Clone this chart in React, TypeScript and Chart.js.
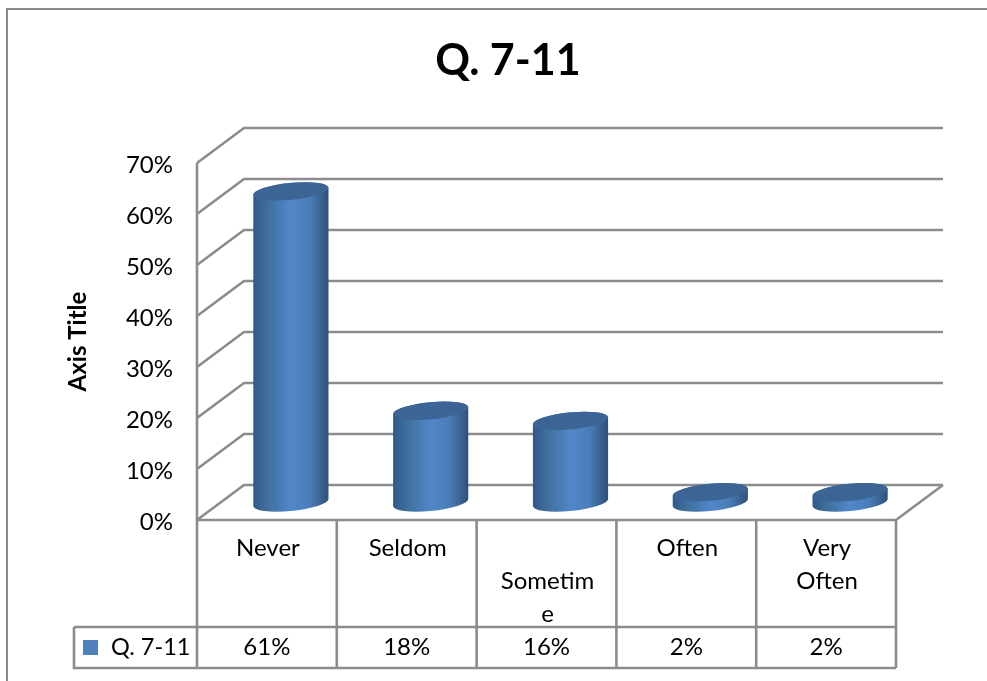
import React, { useEffect, useRef } from "react";
import { Chart, registerables } from "chart.js";

Chart.register(...registerables);

const categories: (string | string[])[] = ["Never", "Seldom", ["", "Sometim", "e"], "Often", ["Very", "Often"]];
const seriesName = "Q. 7-11";
const seriesValues = [0.61, 0.18, 0.16, 0.02, 0.02];
const titleText = "Q. 7-11";
const axisTitleText = "Axis Title";

const FONT = "Lato";
const LINE = "#8c8c8c";
const LINE_WIDTH = 2.6;
const DEPTH_X = 47;
const DEPTH_Y = 35;
const TABLE_ROW_TOP = 627;
const TABLE_BOTTOM = 668;
const TABLE_LEFT = 74;

const pct = (v: number) => `${Math.round(v * 100)}%`;

// Side walls and floor of the 3D box, one polyline per y tick.
const wallsPlugin = {
  id: "walls",
  beforeDatasetsDraw(chart: any) {
    const { ctx, scales } = chart;
    const x = scales.x;
    const y = scales.y;
    const left = x.left;
    const right = x.right;
    ctx.save();
    ctx.strokeStyle = LINE;
    ctx.lineWidth = LINE_WIDTH;
    ctx.lineJoin = "miter";
    y.ticks.forEach((t: any) => {
      const py = y.getPixelForValue(t.value);
      ctx.beginPath();
      ctx.moveTo(left, py);
      ctx.lineTo(left + DEPTH_X, py - DEPTH_Y);
      ctx.lineTo(right + DEPTH_X, py - DEPTH_Y);
      ctx.stroke();
    });
    const y0 = y.getPixelForValue(0);
    ctx.beginPath();
    ctx.moveTo(left, y.getPixelForValue(y.max));
    ctx.lineTo(left, y0);
    ctx.lineTo(right, y0);
    ctx.lineTo(right + DEPTH_X, y0 - DEPTH_Y);
    ctx.stroke();
    ctx.restore();
  },
};

// Each bar element is painted as a tilted cylinder standing mid-depth on the floor.
const cylinderPlugin = {
  id: "cylinders",
  afterDatasetsDraw(chart: any) {
    const { ctx } = chart;
    const meta = chart.getDatasetMeta(0);
    const tilt = (-5.5 * Math.PI) / 180;
    meta.data.forEach((bar: any) => {
      const cx = bar.x + DEPTH_X / 2 + 0.5;
      const topY = bar.y - DEPTH_Y / 2;
      const baseY = bar.base - DEPTH_Y / 2;
      const rx = bar.width / 2;
      const ry = 8.5;
      const t0 = Math.atan2(-ry * Math.sin(tilt), rx * Math.cos(tilt));
      const grad = ctx.createLinearGradient(cx - rx, 0, cx + rx, 0);
      grad.addColorStop(0, "#2f5888");
      grad.addColorStop(0.2, "#41709f");
      grad.addColorStop(0.5, "#5187c9");
      grad.addColorStop(0.75, "#4a7db9");
      grad.addColorStop(1, "#2f5077");
      ctx.save();
      ctx.beginPath();
      ctx.ellipse(cx, baseY, rx, ry, tilt, t0, t0 + Math.PI);
      ctx.ellipse(cx, topY, rx, ry, tilt, t0 + Math.PI, t0);
      ctx.closePath();
      ctx.fillStyle = grad;
      ctx.fill();
      ctx.beginPath();
      ctx.ellipse(cx, topY, rx, ry, tilt, 0, Math.PI * 2);
      ctx.fillStyle = "#3c6595";
      ctx.fill();
      ctx.restore();
    });
  },
};

// Data table under the plot, with its columns taken from the category scale.
const tablePlugin = {
  id: "dataTable",
  afterDraw(chart: any) {
    const { ctx, scales, width } = chart;
    const x = scales.x;
    const y0 = scales.y.getPixelForValue(0);
    const edges = categories.map((_, i) => x.getPixelForValue(i) - (x.getPixelForValue(1) - x.getPixelForValue(0)) / 2);
    edges.push(x.right);
    ctx.save();
    ctx.strokeStyle = LINE;
    ctx.lineWidth = LINE_WIDTH;
    edges.forEach((ex: number) => {
      ctx.beginPath();
      ctx.moveTo(ex, y0);
      ctx.lineTo(ex, TABLE_BOTTOM);
      ctx.stroke();
    });
    ctx.beginPath();
    ctx.moveTo(TABLE_LEFT, TABLE_ROW_TOP);
    ctx.lineTo(x.right, TABLE_ROW_TOP);
    ctx.moveTo(x.right, TABLE_BOTTOM);
    ctx.lineTo(TABLE_LEFT, TABLE_BOTTOM);
    ctx.lineTo(TABLE_LEFT, TABLE_ROW_TOP);
    ctx.stroke();

    ctx.fillStyle = "#000000";
    ctx.font = `24px ${FONT}`;
    ctx.textBaseline = "middle";
    ctx.textAlign = "center";
    const rowMid = (TABLE_ROW_TOP + TABLE_BOTTOM) / 2;
    seriesValues.forEach((v, i) => {
      ctx.fillText(pct(v), x.getPixelForValue(i), rowMid);
    });
    ctx.textAlign = "left";
    ctx.font = `23.5px ${FONT}`;
    ctx.fillText(seriesName, 111, rowMid);
    ctx.fillStyle = "#4f81bd";
    ctx.fillRect(83, 640, 15, 15);

    // Chart frame: top and left edges only.
    ctx.strokeStyle = "#8a8a8a";
    ctx.lineWidth = 2;
    ctx.beginPath();
    ctx.moveTo(7, 681);
    ctx.lineTo(7, 9);
    ctx.lineTo(width, 9);
    ctx.stroke();
    ctx.restore();
  },
};

export default function App() {
  const canvasRef = useRef<HTMLCanvasElement>(null);

  useEffect(() => {
    const chart = new Chart(canvasRef.current!, {
      type: "bar",
      data: {
        labels: categories as any,
        datasets: [
          {
            label: seriesName,
            data: seriesValues,
            backgroundColor: "rgba(0,0,0,0)",
            categoryPercentage: 1,
            barPercentage: 0.54,
          },
        ],
      },
      plugins: [wallsPlugin, cylinderPlugin, tablePlugin],
      options: {
        responsive: false,
        animation: false,
        layout: { padding: { left: 120, right: 91, top: 0, bottom: 0 } },
        plugins: {
          legend: { display: false },
          tooltip: { enabled: false },
          title: {
            display: true,
            text: titleText,
            color: "#000000",
            font: { family: FONT, size: 43, weight: "bold" },
            padding: { top: 35, bottom: 76.4 },
          },
        },
        scales: {
          x: {
            grid: { display: false },
            border: { display: false },
            ticks: {
              color: "#000000",
              font: { family: FONT, size: 24, lineHeight: 33 / 24 },
              maxRotation: 0,
              minRotation: 0,
              autoSkip: false,
              padding: 4,
              labelOffset: 1,
            },
            afterFit(scale: any) {
              scale.height = 161;
            },
          },
          y: {
            min: 0,
            max: 0.7,
            grid: { display: false },
            border: { display: false },
            title: {
              display: true,
              text: axisTitleText,
              color: "#000000",
              font: { family: FONT, size: 24, weight: "bold" },
              padding: { top: -56.4, bottom: 0 },
            },
            ticks: {
              stepSize: 0.1,
              color: "#000000",
              font: { family: FONT, size: 24 },
              padding: 16,
              labelOffset: 2,
              callback: (v: any) => pct(Number(v)),
            },
            afterFit(scale: any) {
              scale.width = 77;
            },
          },
        },
      },
    } as any);
    return () => chart.destroy();
  }, []);

  return (
    <canvas
      ref={canvasRef}
      width={987}
      height={681}
      style={{ position: "fixed", left: 0, top: 0, background: "#ffffff" }}
    />
  );
}
